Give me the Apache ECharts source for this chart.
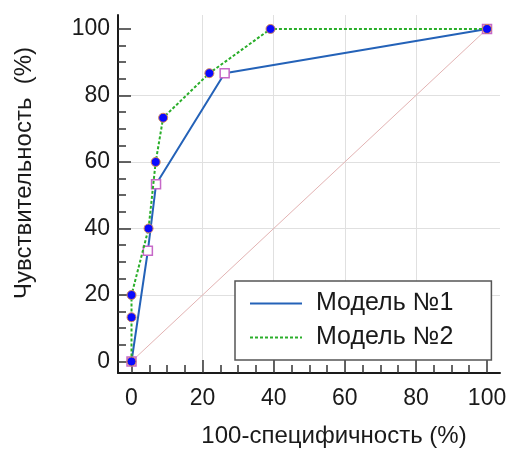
<!DOCTYPE html>
<html>
<head>
<meta charset="utf-8">
<script src="https://cdn.jsdelivr.net/npm/echarts@6/dist/echarts.min.js"></script>
<style>html,body{margin:0;padding:0;background:#fff}#c{width:508px;height:450px}</style>
</head>
<body>
<div id="c"></div>
<script>
var model1 = [[0,0],[4.6,33.3],[6.9,53.3],[26.2,86.7],[100,100]];
var model2 = [[0,0],[0,13.3],[0,20],[4.8,40],[6.8,60],[8.9,73.3],[21.9,86.7],[39.1,100],[100,100]];
var diagonal = [[0,0],[100,100]];
var majorTicks = [0,20,40,60,80,100];
var minorTicks = [5,10,15,25,30,35,45,50,55,65,70,75,85,90,95];
var seriesNames = ['Модель №1','Модель №2'];
var xTitle = '100-специфичность (%)';
var yTitle = 'Чувствительность  (%)';

var FONT = 'Liberation Sans';
var xMin = -3.8, xMax = 103.65, yMin = -3.46, yMax = 104.2;

function mainAxis(isX, mn, mx, title) {
  return {
    type: 'value', min: mn, max: mx,
    position: isX ? 'bottom' : 'left',
    name: title, nameLocation: 'middle',
    nameGap: isX ? 51 : 82,
    nameTextStyle: {fontFamily: FONT, fontSize: 24, color: '#1a1a1a',
      padding: isX ? [0,0,0,50] : [0,0,0,42]},
    axisLine: {show: true, onZero: false, lineStyle: {color: '#1a1a1a', width: 2}},
    axisTick: {show: true, inside: true, length: 13, customValues: majorTicks,
      lineStyle: {color: '#333', width: 1.5}},
    axisLabel: {show: true, customValues: majorTicks, fontFamily: FONT, fontSize: 23,
      color: '#1a1a1a', margin: isX ? 14 : 8},
    splitLine: {show: true, showMinLine: false, showMaxLine: false,
      lineStyle: {color: '#e0e0e0', width: 1}},
    minorTick: {show: false}
  };
}
function minorAxis(isX, mn, mx) {
  return {
    type: 'value', min: mn, max: mx,
    position: isX ? 'bottom' : 'left',
    axisLine: {show: false, onZero: false},
    axisTick: {show: true, inside: true, length: 8, customValues: minorTicks,
      lineStyle: {color: '#333', width: 1.5}},
    axisLabel: {show: false},
    splitLine: {show: false}
  };
}

var chart = echarts.init(document.getElementById('c'), null, {renderer: 'canvas'});
chart.setOption({
  animation: false,
  backgroundColor: '#fff',
  grid: {left: 118, right: 8, top: 15, bottom: 77, containLabel: false, outerBoundsMode: 'none'},
  xAxis: [mainAxis(true, xMin, xMax, xTitle), minorAxis(true, xMin, xMax)],
  yAxis: [mainAxis(false, yMin, yMax, yTitle), minorAxis(false, yMin, yMax)],
  legend: {
    orient: 'vertical',
    left: 235, top: 281,
    padding: [10, 38, 10, 14],
    itemGap: 9,
    itemWidth: 52, itemHeight: 2,
    borderColor: '#555', borderWidth: 1.5,
    backgroundColor: '#fff',
    itemStyle: {opacity: 0},
    textStyle: {fontFamily: FONT, fontSize: 25, color: '#1a1a1a', padding: [0,0,0,9]},
    data: seriesNames
  },
  series: [
    {
      type: 'line', data: diagonal, silent: true, symbol: 'none',
      lineStyle: {color: '#e3b3b3', width: 1}, z: 1
    },
    {
      name: seriesNames[0], type: 'line', data: model1,
      symbol: 'rect', symbolSize: 9,
      lineStyle: {color: '#2462b8', width: 2, type: 'solid'},
      itemStyle: {color: '#ffffff', borderColor: '#c668c8', borderWidth: 1.5},
      color: '#2462b8', z: 3
    },
    {
      name: seriesNames[1], type: 'line', data: model2,
      symbol: 'circle', symbolSize: 9,
      lineStyle: {color: '#2aae2a', width: 2, type: [3, 2]},
      itemStyle: {color: '#0a0aff', borderColor: '#d88a5a', borderWidth: 1},
      color: '#2aae2a', z: 4
    }
  ]
});
</script>
</body>
</html>
